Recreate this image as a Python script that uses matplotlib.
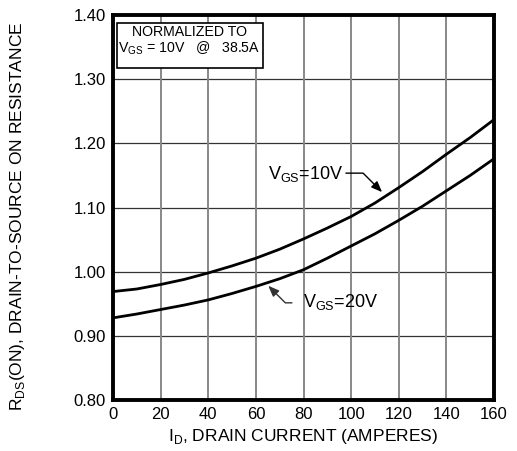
""" Normalized on-resistance vs drain current.
"""

import matplotlib.pyplot as plt
from matplotlib.patches import Rectangle

plt.rcParams['font.family'] = ['Liberation Sans', 'DejaVu Sans']

current = [0, 10, 20, 30, 40, 50, 60, 70, 80, 90, 100, 110, 120, 130, 140, 150, 160]
rds_10v = [0.969, 0.973, 0.980, 0.988, 0.998, 1.009, 1.021, 1.035, 1.051, 1.068,
           1.086, 1.107, 1.131, 1.156, 1.183, 1.209, 1.237]
rds_20v = [0.928, 0.934, 0.941, 0.948, 0.956, 0.966, 0.977, 0.989, 1.003, 1.021,
           1.040, 1.059, 1.080, 1.102, 1.126, 1.150, 1.176]

x_ticks = [0, 20, 40, 60, 80, 100, 120, 140, 160]
y_ticks = [0.80, 0.90, 1.00, 1.10, 1.20, 1.30, 1.40]


def create_graph(filename: str):
    """ I create the graph """
    fig = plt.figure(figsize=(5.17, 4.51), dpi=100)
    ax = fig.add_axes([0.2186, 0.1131, 0.7369, 0.8536])

    for y in y_ticks[1:-1]:
        ax.axhline(y, color='#333333', lw=0.9, zorder=1)
    for x in x_ticks[1:-1]:
        ax.axvline(x, color='#888888', lw=1.4, zorder=1)

    ax.plot(current, rds_10v, color='black', lw=2.0, zorder=3)
    ax.plot(current, rds_20v, color='black', lw=2.0, zorder=3)

    ax.set_xlim(0, 160)
    ax.set_ylim(0.80, 1.40)
    ax.set_xticks(x_ticks)
    ax.set_xticklabels([str(v) for v in x_ticks])
    ax.set_yticks(y_ticks)
    ax.set_yticklabels([f'{v:.2f}' for v in y_ticks])
    ax.tick_params(length=0, labelsize=12, pad=5)
    for spine in ax.spines.values():
        spine.set_linewidth(2.8)

    ax.set_xlabel(r'I$_\mathregular{D}$, DRAIN CURRENT (AMPERES)', fontsize=12.5,
                  labelpad=4)
    ax.set_ylabel(r'R$_\mathregular{DS}$(ON), DRAIN-TO-SOURCE ON RESISTANCE',
                  fontsize=12.5)
    ax.yaxis.set_label_coords(-0.226, 0.478)

    ax.add_patch(Rectangle((0.0097, 0.8616), 0.3833, 0.1184, transform=ax.transAxes,
                           fc='white', ec='black', lw=1.2, zorder=5))
    ax.text(0.2, 0.957, 'NORMALIZED TO', transform=ax.transAxes, fontsize=10.2,
            ha='center', va='center', zorder=6)
    ax.text(0.2, 0.913, r'V$_\mathregular{GS}$ = 10V   @   38.5A',
            transform=ax.transAxes, fontsize=10.2, ha='center', va='center',
            zorder=6)

    ax.annotate(r'V$_\mathregular{GS}$=10V', xy=(113, 1.124), xytext=(65, 1.152),
                fontsize=13, va='center', ha='left', zorder=5,
                arrowprops=dict(arrowstyle='-|>,head_length=0.5,head_width=0.2',
                                color='black', lw=1.0, shrinkA=0, shrinkB=0,
                                relpos=(1.0, 0.55),
                                connectionstyle='angle,angleA=0,angleB=-45,rad=0'))
    ax.annotate(r'V$_\mathregular{GS}$=20V', xy=(65.2, 0.978), xytext=(79.8, 0.953),
                fontsize=13, va='center', ha='left', zorder=5,
                arrowprops=dict(arrowstyle='-|>,head_length=0.5,head_width=0.2',
                                color='#333333', lw=1.0, shrinkA=6, shrinkB=0,
                                relpos=(0.0, 0.45),
                                connectionstyle='angle,angleA=0,angleB=-45,rad=0'))

    fig.savefig(filename)


if __name__ == '__main__':
    create_graph('out.png')
